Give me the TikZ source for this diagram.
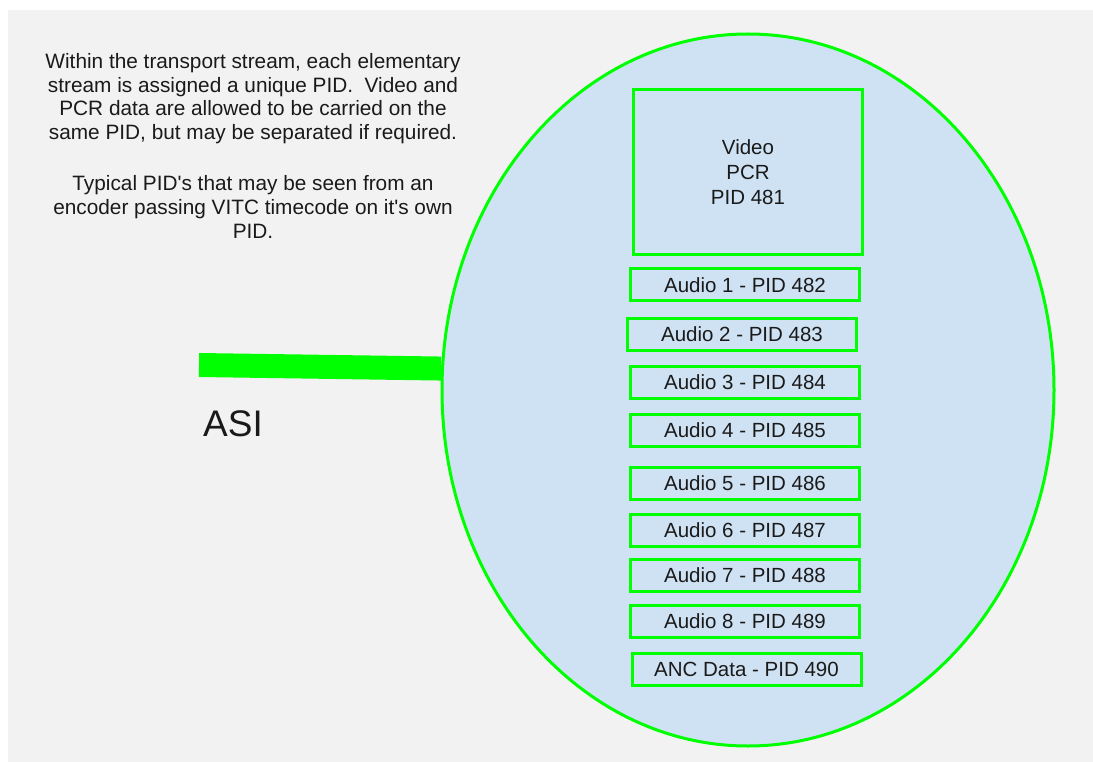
\documentclass[tikz,border=0pt]{standalone}
\usepackage{fontspec}
\setmainfont{Liberation Sans}
\usetikzlibrary{shapes.geometric}

\definecolor{bggray}{HTML}{F2F2F2}
\definecolor{tsblue}{HTML}{CFE2F3}
\definecolor{pidgreen}{HTML}{00FF00}
\definecolor{txtdark}{HTML}{1A1A1A}

\tikzset{
  tsellipse/.style={ellipse, draw=pidgreen, fill=tsblue, line width=3pt,
    minimum width=612pt, minimum height=712pt, inner sep=0pt},
  pidbox/.style={draw=pidgreen, line width=3pt, minimum width=229pt,
    minimum height=32pt, inner sep=0pt, text=txtdark,
    font=\fontsize{20.5}{25}\selectfont},
  asibar/.style={draw=pidgreen, line width=24pt},
  notetext/.style={align=center, inner sep=0pt, text=txtdark,
    font=\fontsize{20.8}{23.8}\selectfont}
}

\begin{document}
\begin{tikzpicture}[x=1pt,y=-1pt]
  \useasboundingbox (0,0) rectangle (1093,762);
  % Background
  \fill[white] (0,0) rectangle (1093,762);
  \fill[bggray] (8,10) rectangle (1093,762);

  % Transport stream
  \node[tsellipse] (ts) at (748,390) {};

  % ASI input
  \coordinate (asistart) at (199,365);
  \draw[asibar] (asistart) -- (ts.176);
  \node[anchor=base west, inner sep=0pt, text=txtdark,
    font=\fontsize{37}{40}\selectfont] (asi) at (203,436) {ASI};

  % Note
  \node[notetext, anchor=north] (note) at (253,53)
    {Within the transport stream, each elementary\\
     stream is assigned a unique PID.\ \ Video and\\
     PCR data are allowed to be carried on the\\
     same PID, but may be separated if required.\\[27pt]
     Typical PID\textquotesingle s that may be seen from an\\
     encoder passing VITC timecode on it\textquotesingle s own\\
     PID.};

  % PIDs
  \node[pidbox, minimum height=165pt, align=center] (video) at (748,172)
    {Video\\PCR\\PID 481};
  \node[pidbox] (aud1) at (745,285) {Audio 1 - PID 482};
  \node[pidbox] (aud2) at (742,334.5) {Audio 2 - PID 483};
  \node[pidbox] (aud3) at (745,382) {Audio 3 - PID 484};
  \node[pidbox] (aud4) at (745,430.5) {Audio 4 - PID 485};
  \node[pidbox] (aud5) at (745,483.5) {Audio 5 - PID 486};
  \node[pidbox] (aud6) at (745,530) {Audio 6 - PID 487};
  \node[pidbox] (aud7) at (745,575.5) {Audio 7 - PID 488};
  \node[pidbox] (aud8) at (745,621.5) {Audio 8 - PID 489};
  \node[pidbox] (anc) at (746.5,669) {ANC Data - PID 490};
\end{tikzpicture}
\end{document}
